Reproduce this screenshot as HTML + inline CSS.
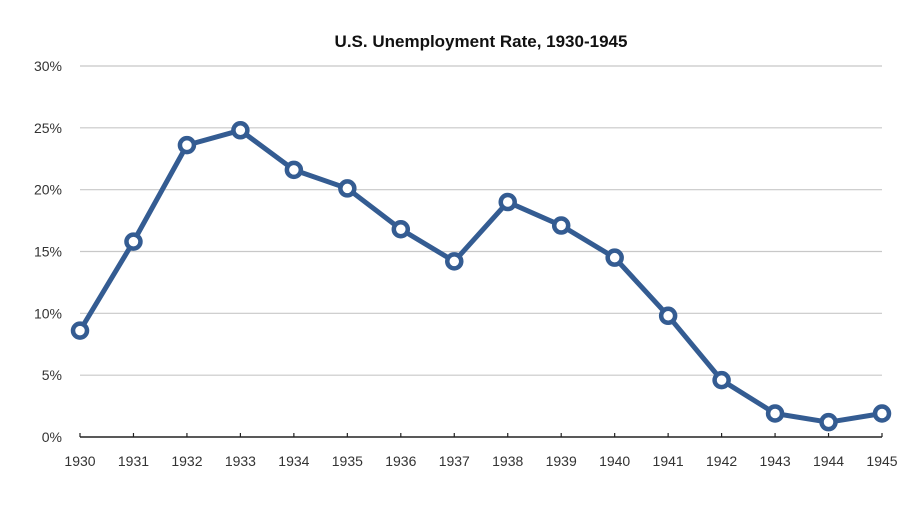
<!DOCTYPE html>
<html><head><meta charset="utf-8"><style>
body{margin:0;background:#fff;}
svg{display:block;font-family:"Liberation Sans",Arial,sans-serif;}
</style></head><body>
<svg id="chart" width="913" height="505" viewBox="0 0 913 505">
<text x="481" y="47" text-anchor="middle" font-size="17" font-weight="bold" fill="#111">U.S. Unemployment Rate, 1930-1945</text>
<g id="grid"></g><g id="axis"></g><g id="series"></g>
</svg>
<script>
const years=["1930","1931","1932","1933","1934","1935","1936","1937","1938","1939","1940","1941","1942","1943","1944","1945"];
const rates=[8.6,15.8,23.6,24.8,21.6,20.1,16.8,14.2,19.0,17.1,14.5,9.8,4.6,1.9,1.2,1.9];
const yTicks=[0,5,10,15,20,25,30];
const yTickLabels=["0%","5%","10%","15%","20%","25%","30%"];
const NS="http://www.w3.org/2000/svg";
const x0=80,x1=882,yBase=437,yTop=66,yMax=30;
function xs(i){return x0+i*(x1-x0)/(years.length-1);}
function ys(v){return yBase-v*(yBase-yTop)/yMax;}
function mk(t,a,p){const e=document.createElementNS(NS,t);for(const k in a)e.setAttribute(k,a[k]);p.appendChild(e);return e;}
const grid=document.getElementById('grid'),axis=document.getElementById('axis'),ser=document.getElementById('series');
yTicks.forEach((v,i)=>{
 if(v>0){const l=mk('line',{x1:x0,x2:x1,y1:ys(v),y2:ys(v),stroke:'#c8c8c8','stroke-width':1.2},grid);
 
 }
 const t=mk('text',{x:62,y:ys(v)+5,'text-anchor':'end','font-size':14,fill:'#333'},grid);
 t.textContent=yTickLabels[i];
 
 
});
const ax=mk('line',{x1:x0,x2:x1,y1:yBase,y2:yBase,stroke:'#222','stroke-width':1.5},axis);


years.forEach((y,i)=>{
 const tk=mk('line',{x1:xs(i),x2:xs(i),y1:yBase-4,y2:yBase,stroke:'#222','stroke-width':1.2},axis);
 
 
 const t=mk('text',{x:xs(i),y:466,'text-anchor':'middle','font-size':14,fill:'#333'},axis);
 t.textContent=y;
 
 
});
const pl=mk('polyline',{points:rates.map((v,i)=>xs(i)+','+ys(v)).join(' '),fill:'none',stroke:'#345c92','stroke-width':5,'stroke-linejoin':'round'},ser);


rates.forEach((v,i)=>{
 const c=mk('circle',{cx:xs(i),cy:ys(v),r:7,fill:'#fff',stroke:'#345c92','stroke-width':4.5},ser);
 
 
});
</script>
</body></html>
